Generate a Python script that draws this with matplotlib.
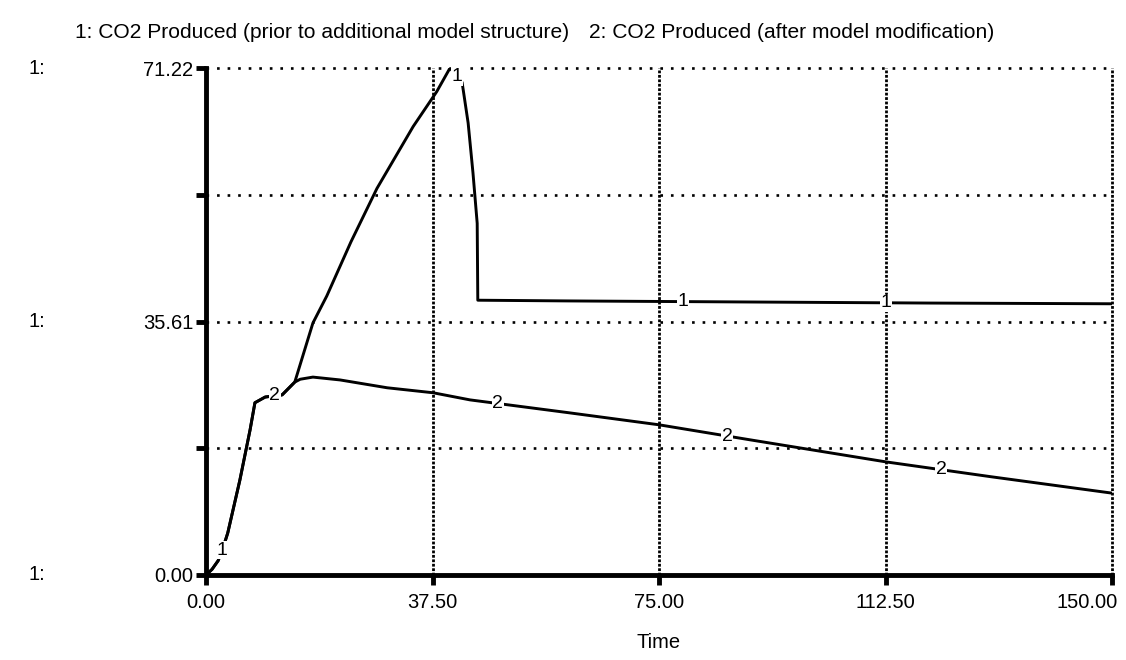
import numpy as np
import matplotlib.pyplot as plt
from matplotlib.transforms import blended_transform_factory, ScaledTranslation

plt.rcParams['font.family'] = ['Liberation Sans', 'DejaVu Sans']

# series 1: CO2 produced before the extra model structure
t1 = [0, 1, 2, 2.7, 3.6, 5.6, 7.3, 8.1, 9.8, 12.6, 14.7, 17.7, 20, 24, 28.3, 34.3,
      38.2, 40.4, 42.4, 43.4, 44.2, 44.9, 45.0, 60, 80, 100, 120, 150]
y1 = [0, 0.8, 2.0, 3.5, 5.9, 13.3, 20.4, 24.2, 25.0, 25.3, 27.1, 35.4, 39.2, 46.8, 54.3,
      63.0, 67.9, 71.22, 69.2, 63.5, 56.5, 49.4, 38.6, 38.5, 38.4, 38.3, 38.2, 38.1]

# series 2: CO2 produced after model modification
t2 = [0, 1, 2, 2.7, 3.6, 5.6, 7.3, 8.1, 9.8, 12.6, 14.7, 15.6, 17.7, 22.2, 30, 37.6, 43.7,
      60, 75, 90, 112.5, 130, 150]
y2 = [0, 0.8, 2.0, 3.5, 5.9, 13.3, 20.4, 24.2, 25.0, 25.3, 27.1, 27.5, 27.8, 27.4, 26.3,
      25.6, 24.6, 22.8, 21.1, 19.0, 15.9, 13.8, 11.5]

names = ['1: CO2 Produced (prior to additional model structure)',
         '2: CO2 Produced (after model modification)']

y_max = 71.22
y_ticks = [0, y_max / 4, y_max / 2, 3 * y_max / 4, y_max]
y_ticklabels = ['0.00', '', '35.61', '', '71.22']
x_ticks = [0, 37.5, 75, 112.5, 150]
x_ticklabels = ['0.00', '37.50', '75.00', '112.50', '150.00']

label1_t = [2.7, 41.6, 79, 112.6]
label2_t = [11.4, 48.3, 86.3, 121.7]

fig = plt.figure(figsize=(11.26, 6.6), dpi=100)
ax = fig.add_axes([206 / 1126, 85 / 660, 906 / 1126, 507 / 660])

# dotted grid
for yv in y_ticks[1:]:
    ax.plot([0, 150], [yv, yv], color='black', lw=1.9, ls=(0, (1, 3)), clip_on=False, zorder=1)
for xv in x_ticks[1:]:
    ax.plot([xv, xv], [0, y_max], color='black', lw=2, ls=(0, (1, 0.6)), clip_on=False, zorder=1)

ax.plot(t1, y1, color='black', lw=2.1, zorder=3)
ax.plot(t2, y2, color='black', lw=2.1, zorder=3)

box = dict(facecolor='white', edgecolor='none', pad=0.6)
for tt in label1_t:
    ax.text(tt, np.interp(tt, t1, y1), '1', fontsize=14, ha='center', va='center',
            bbox=box, zorder=4)
for tt in label2_t:
    ax.text(tt, np.interp(tt, t2, y2), '2', fontsize=14, ha='center', va='center',
            bbox=box, zorder=4)

ax.set_xlim(0, 150)
ax.set_ylim(0, y_max)
ax.spines['top'].set_visible(False)
ax.spines['right'].set_visible(False)
ax.spines['left'].set_linewidth(3.5)
ax.spines['bottom'].set_linewidth(3.5)
ax.set_xticks(x_ticks)
ax.set_xticklabels(x_ticklabels)
ax.set_yticks(y_ticks)
ax.set_yticklabels(y_ticklabels)
ax.tick_params(axis='both', length=7, width=3.5, labelsize=14.5)
ax.tick_params(axis='x', pad=6)
ax.tick_params(axis='y', pad=2)
last = ax.get_xticklabels()[-1]
last.set_horizontalalignment('right')
last.set_transform(last.get_transform() + ScaledTranslation(6 / 100, 0, fig.dpi_scale_trans))
ax.set_xlabel('Time', fontsize=14.5, labelpad=15)

trans = blended_transform_factory(ax.transAxes, ax.transData)
for yv, lab in zip(y_ticks, y_ticklabels):
    if lab:
        ax.text(-0.196, yv, '1:', transform=trans, fontsize=14.5, ha='left', va='center')

fig.text(75 / 1126, 1 - 33 / 660, names[0], fontsize=15.1, ha='left', va='center')
fig.text(589 / 1126, 1 - 33 / 660, names[1], fontsize=15.1, ha='left', va='center')

fig.savefig('out.png', dpi=100, facecolor='white')
